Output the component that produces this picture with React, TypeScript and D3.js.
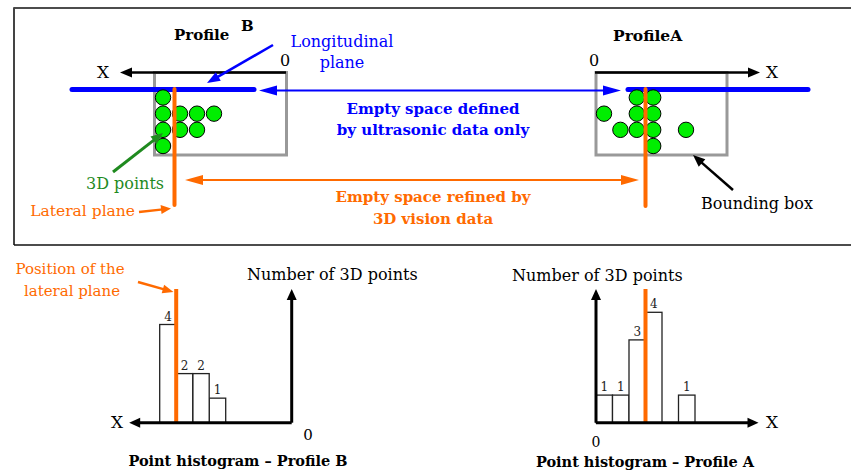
import * as d3 from "d3";

// bins are counted from the origin (0) outward along X
const binsB = [4, 5, 6, 7];
const countsB = [1, 2, 2, 4];
const lateralBinB = 7;

const binsA = [0, 1, 2, 3, 5];
const countsA = [1, 1, 3, 4, 1];
const lateralBinA = 3;

// 3D points seen from above: bin (column along X) and row
const pointBinsB = [7, 7, 7, 7, 6, 6, 5, 5, 4];
const pointRowsB = [0, 1, 2, 3, 1, 2, 1, 2, 1];
const pointBinsA = [2, 3, 0, 2, 3, 1, 2, 3, 5, 3];
const pointRowsA = [0, 0, 1, 1, 1, 2, 2, 2, 2, 3];

const BLUE = "#0000ff";
const ORANGE = "#ff6a00";
const DKGREEN = "#1f8a1f";
const SERIF = "DejaVu Serif";

type P = [number, number];

function T({ x, y, size = 16, bold = false, fill = "#000", anchor = "start", children }: any) {
  return (
    <text x={x} y={y} fontSize={size} fontWeight={bold ? "bold" : "normal"} fill={fill} textAnchor={anchor}
      style={{ fontFamily: SERIF }}>
      {children}
    </text>
  );
}

function Arrow({ from, to, color, width, head = 12, half = 5, both = false }: {
  from: P; to: P; color: string; width: number; head?: number; half?: number; both?: boolean;
}) {
  const tri = (a: P, b: P) => {
    const dx = b[0] - a[0], dy = b[1] - a[1];
    const len = Math.hypot(dx, dy);
    const ux = dx / len, uy = dy / len;
    const bx = b[0] - ux * head, by = b[1] - uy * head;
    return `${b[0]},${b[1]} ${bx - uy * half},${by + ux * half} ${bx + uy * half},${by - ux * half}`;
  };
  const shorten = (a: P, b: P): P => {
    const dx = b[0] - a[0], dy = b[1] - a[1];
    const len = Math.hypot(dx, dy);
    return [b[0] - (dx / len) * head * 0.8, b[1] - (dy / len) * head * 0.8];
  };
  const end = shorten(from, to);
  const start = both ? shorten(to, from) : from;
  return (
    <g>
      <line x1={start[0]} y1={start[1]} x2={end[0]} y2={end[1]} stroke={color} strokeWidth={width} />
      <polygon points={tri(from, to)} fill={color} />
      {both && <polygon points={tri(to, from)} fill={color} />}
    </g>
  );
}

function Histogram({ bins, counts, lateral, x, y, children }: any) {
  return (
    <g>
      {bins.map((b: number, i: number) => {
        const x0 = x(b), x1 = x(b + 1);
        return (
          <g key={i}>
            <rect x={Math.min(x0, x1)} y={y(counts[i])} width={Math.abs(x1 - x0)} height={y(0) - y(counts[i])}
              fill="#fff" stroke="#222" strokeWidth={1.3} />
            <T x={(x0 + x1) / 2} y={y(counts[i]) - 4} size={12} anchor="middle" fill="#222">
              {counts[i]}
            </T>
          </g>
        );
      })}
      <line x1={x(lateral)} x2={x(lateral)} y1={289} y2={y(0)} stroke={ORANGE} strokeWidth={4} />
      <Arrow from={[x(0), y(0)]} to={[x(9.85), y(0)]} color="#000" width={3} head={11} half={5} />
      <Arrow from={[x(0), y(0)]} to={[x(0), 289]} color="#000" width={3} head={11} half={5} />
      {children}
    </g>
  );
}

export default function App() {
  // top view scales
  const colB = d3.scaleLinear().domain([4, 7]).range([214, 163]);
  const colA = d3.scaleLinear().domain([0, 5]).range([604, 686]);
  const rowY = d3.scaleLinear().domain([0, 3]).range([97.5, 146]);

  // histogram scales
  const hxB = d3.scaleLinear().domain([0, 8]).range([291.7, 291.7 - 8 * 16.5]);
  const hxA = d3.scaleLinear().domain([0, 8]).range([596, 596 + 8 * 16.5]);
  const hyB = d3.scaleLinear().domain([0, 4]).range([422.7, 324.5]);
  const hyA = d3.scaleLinear().domain([0, 4]).range([422.7, 312.3]);

  return (
    <svg width={851} height={473} style={{ position: "fixed", left: 0, top: 0, background: "#fff" }}>
      {/* frame */}
      <line x1={14} y1={8} x2={851} y2={8} stroke="#111" strokeWidth={1.5} />
      <line x1={14} y1={7.3} x2={14} y2={245} stroke="#444" strokeWidth={2} />
      <line x1={14} y1={245} x2={851} y2={245} stroke="#111" strokeWidth={1.5} />

      {/* Profile B */}
      <rect x={154.5} y={72.5} width={132} height={82.5} fill="none" stroke="#999" strokeWidth={3} />
      <Arrow from={[286, 72.5]} to={[120, 72.5]} color="#000" width={2.5} head={12} half={5} />
      <T x={103} y={78} size={17} anchor="middle">X</T>
      <T x={285} y={66} size={16} anchor="middle">0</T>
      <T x={174} y={40} size={15} bold>Profile</T>
      <T x={241} y={31} size={15} bold>B</T>
      <line x1={72} y1={89.5} x2={254} y2={89.5} stroke={BLUE} strokeWidth={5} strokeLinecap="round" />
      {pointBinsB.map((b, i) => (
        <circle key={i} cx={colB(b)} cy={rowY(pointRowsB[i])} r={7.7} fill="#00ee00" stroke="#000" strokeWidth={1} />
      ))}
      <line x1={174.5} y1={89} x2={174.5} y2={205} stroke={ORANGE} strokeWidth={4} strokeLinecap="round" />

      {/* Profile A */}
      <rect x={596} y={72.5} width={131} height={82.5} fill="none" stroke="#999" strokeWidth={3} />
      <Arrow from={[595, 72.5]} to={[760, 72.5]} color="#000" width={2.5} head={12} half={5} />
      <T x={772} y={78} size={17} anchor="middle">X</T>
      <T x={594} y={66} size={16} anchor="middle">0</T>
      <T x={613} y={41} size={15.5} bold>ProfileA</T>
      <line x1={628} y1={89.5} x2={808} y2={89.5} stroke={BLUE} strokeWidth={5} strokeLinecap="round" />
      {pointBinsA.map((b, i) => (
        <circle key={i} cx={colA(b)} cy={rowY(pointRowsA[i])} r={7.7} fill="#00ee00" stroke="#000" strokeWidth={1} />
      ))}
      <line x1={645.5} y1={89} x2={645.5} y2={206} stroke={ORANGE} strokeWidth={4} strokeLinecap="round" />

      {/* annotations */}
      <T x={342} y={47} size={16} fill={BLUE} anchor="middle">Longitudinal</T>
      <T x={342} y={68} size={16} fill={BLUE} anchor="middle">plane</T>
      <Arrow from={[273, 45]} to={[207, 83]} color={BLUE} width={2.5} head={13} half={5} />

      <Arrow from={[259, 90.5]} to={[621, 90.5]} color={BLUE} width={2} head={18} half={5} both />
      <T x={433} y={114} size={15} bold fill={BLUE} anchor="middle">Empty space defined</T>
      <T x={433} y={135} size={15} bold fill={BLUE} anchor="middle">by ultrasonic data only</T>

      <Arrow from={[185, 180]} to={[639, 180]} color={ORANGE} width={2} head={18} half={5} both />
      <T x={433} y={202} size={15} bold fill={ORANGE} anchor="middle">Empty space refined by</T>
      <T x={433} y={224} size={15} bold fill={ORANGE} anchor="middle">3D vision data</T>

      <Arrow from={[113, 172]} to={[163, 133]} color={DKGREEN} width={3} head={12} half={5} />
      <T x={125} y={189} size={16} fill={DKGREEN} anchor="middle">3D points</T>
      <T x={135} y={216} size={15.5} fill={ORANGE} anchor="end">Lateral plane</T>
      <Arrow from={[139, 212]} to={[171, 208.5]} color={ORANGE} width={2.5} head={10} half={4.5} />

      <Arrow from={[733, 190]} to={[693, 155]} color="#000" width={2.5} head={12} half={5} />
      <T x={757} y={209} size={16} anchor="middle">Bounding box</T>

      {/* histograms */}
      <T x={70} y={274} size={15} fill={ORANGE} anchor="middle">Position of the</T>
      <T x={72} y={296} size={15} fill={ORANGE} anchor="middle">lateral plane</T>
      <Arrow from={[138, 282]} to={[173.5, 292]} color={ORANGE} width={2.5} head={11} half={4.5} />

      <Histogram bins={binsB} counts={countsB} lateral={lateralBinB} x={hxB} y={hyB}>
        <T x={117} y={428} size={17} anchor="middle">X</T>
        <T x={308} y={440} size={15} anchor="middle">0</T>
        <T x={247} y={280} size={16}>Number of 3D points</T>
        <T x={238} y={466} size={14.5} bold anchor="middle">Point histogram – Profile B</T>
      </Histogram>
      <Histogram bins={binsA} counts={countsA} lateral={lateralBinA} x={hxA} y={hyA}>
        <T x={772} y={428} size={17} anchor="middle">X</T>
        <T x={596} y={447} size={14} anchor="middle">0</T>
        <T x={512} y={281} size={16}>Number of 3D points</T>
        <T x={645} y={467} size={14.5} bold anchor="middle">Point histogram – Profile A</T>
      </Histogram>
    </svg>
  );
}
